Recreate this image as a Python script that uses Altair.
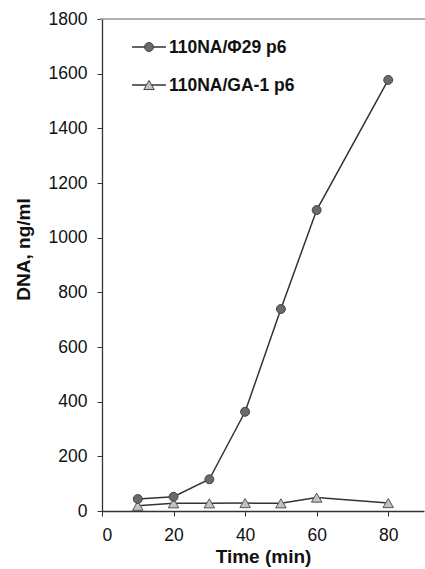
import altair as alt
import pandas as pd

time_min = [10, 20, 30, 40, 50, 60, 80]
phi29 = [44, 52, 116, 363, 739, 1101, 1577]
ga1 = [19, 28, 28, 29, 28, 49, 29]
series_names = ["110NA/\u03a629 p6", "110NA/GA-1 p6"]

df1 = pd.DataFrame({"t": time_min, "v": phi29})
df2 = pd.DataFrame({"t": time_min, "v": ga1})

FONT = "Liberation Sans"
xs = alt.Scale(domain=[0, 90], nice=False)
ys = alt.Scale(domain=[0, 1800], nice=False)

xenc = alt.X("t:Q", scale=xs, axis=alt.Axis(
    title="Time (min)", values=[0, 20, 40, 60, 80], grid=False, format="d",
    domainColor="#333", domainWidth=1.3, tickColor="#333", tickSize=5,
    labelFont=FONT, labelFontSize=17.5, labelColor="#111", labelPadding=10,
    titleFont=FONT, titleFontSize=19, titleFontWeight="bold", titleColor="#111", titlePadding=4))
yenc = alt.Y("v:Q", scale=ys, axis=alt.Axis(
    title="DNA, ng/ml", values=list(range(0, 2000, 200)), grid=False, format="d",
    domainColor="#333", domainWidth=1.3, tickColor="#333", tickSize=5,
    labelFont=FONT, labelFontSize=17.5, labelColor="#111", labelPadding=10,
    titleFont=FONT, titleFontSize=19, titleFontWeight="bold", titleColor="#111",
    titlePadding=15, titleY=230))

line1 = alt.Chart(df1).mark_line(color="#333", strokeWidth=1.5).encode(x=xenc, y=yenc)
line2 = alt.Chart(df2).mark_line(color="#333", strokeWidth=1.5).encode(x=xenc, y=yenc)
pts2 = alt.Chart(df2).mark_point(shape="triangle-up", filled=True, fill="#c2c2c2", stroke="#555",
                                 strokeWidth=1, size=110, opacity=1).encode(x=xenc, y=yenc)
pts1 = alt.Chart(df1).mark_point(shape="circle", filled=True, fill="#6a6a6a", stroke="#444",
                                 strokeWidth=1, size=80, opacity=1).encode(x=xenc, y=yenc)

top = alt.Chart(pd.DataFrame({"a": [0]})).mark_rule(color="#999", strokeWidth=1.5).encode(
    x=alt.value(-2), x2=alt.value(330), y=alt.value(0))

# manual legend
leg = []
for i, (name, shp, fill, sz) in enumerate([(series_names[0], "circle", "#6a6a6a", 80),
                                            (series_names[1], "triangle-up", "#c2c2c2", 110)]):
    yy = 28 + i * 38
    leg.append(alt.Chart(pd.DataFrame({"a": [0]})).mark_rule(color="#333", strokeWidth=1.5).encode(
        x=alt.value(30), x2=alt.value(64), y=alt.value(yy)))
    leg.append(alt.Chart(pd.DataFrame({"a": [0]})).mark_point(shape=shp, filled=True, fill=fill, stroke="#444",
                                                              strokeWidth=1, size=sz, opacity=1).encode(
        x=alt.value(47), y=alt.value(yy)))
    leg.append(alt.Chart(pd.DataFrame({"a": [0]})).mark_text(
        text=name, font=FONT, fontSize=17.5, fontWeight="bold", color="#111", align="left",
        baseline="middle").encode(x=alt.value(67), y=alt.value(yy + 1)))

chart = alt.layer(line2, line1, pts2, pts1, top, *leg).properties(
    width=322, height=492,
    autosize=alt.AutoSizeParams(type="none"),
    padding={"left": 102, "top": 19, "right": 1, "bottom": 58},
    background="white",
).configure_view(stroke=None)

chart.save("out.html", embed_options={"renderer": "svg", "actions": False})
